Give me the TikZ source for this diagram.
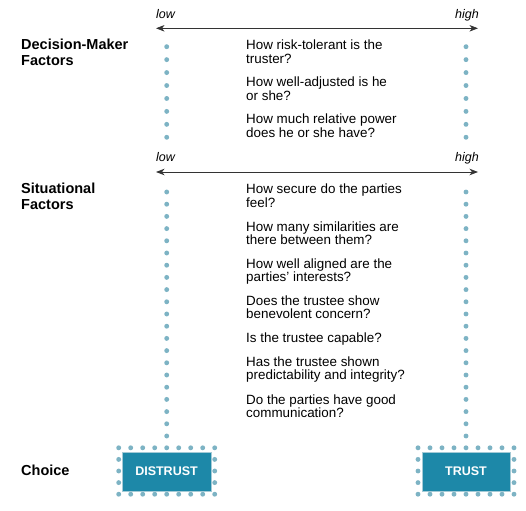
\documentclass[tikz,border=0pt]{standalone}
\usepackage{fontspec}
\setmainfont{Liberation Sans}
\usetikzlibrary{arrows.meta}
\definecolor{dotblue}{HTML}{7DB3C4}
\definecolor{boxblue}{HTML}{1D88A8}
\definecolor{arrowgray}{HTML}{333333}
\begin{document}
\begin{tikzpicture}[x=1pt,y=-1pt,
  header/.style={anchor=west, font=\fontsize{14.5}{16}\selectfont\bfseries, inner sep=0, text height=10pt, text depth=3pt},
  question/.style={anchor=west, font=\fontsize{13.4}{13.5}\selectfont, inner sep=0, text height=9.6pt, text depth=2.8pt},
  scalelabel/.style={font=\fontsize{12.5}{14}\selectfont\itshape, inner sep=0, text height=9pt, text depth=2.5pt},
  axis/.style={draw=arrowgray, line width=0.8pt, {Stealth[length=8.5pt,width=6.5pt,inset=2.5pt]}-{Stealth[length=8.5pt,width=6.5pt,inset=2.5pt]}},
  dot/.style={fill=dotblue, draw=none},
  choicebox/.style={fill=boxblue, draw=dotblue!70, line width=0.5pt, minimum width=89pt, minimum height=39pt, text=white, font=\fontsize{12.5}{14}\selectfont\bfseries, inner sep=0}
]
\useasboundingbox (0,0) rectangle (526,510);

% headers
\node[header] (h1a) at (21,46) {Decision-Maker};
\node[header] (h1b) at (21,62) {Factors};
\node[header] (h2a) at (21,190) {Situational};
\node[header] (h2b) at (21,206) {Factors};
\node[header] (h3)  at (21,472) {Choice};

% axes
\coordinate (l1) at (156,28.3);
\coordinate (r1) at (478,28.3);
\draw[axis] (l1) -- (r1);
\node[scalelabel, anchor=west] (low1) at (156,15.5) {low};
\node[scalelabel, anchor=east] (high1) at (479,15.5) {high};

\coordinate (l2) at (156,172);
\coordinate (r2) at (478,172);
\draw[axis] (l2) -- (r2);
\node[scalelabel, anchor=west] (low2) at (156,158.5) {low};
\node[scalelabel, anchor=east] (high2) at (479,158.5) {high};

% dot columns section 1
\foreach \k in {0,...,7} {
  \fill[dot] (166.7,{46.7+12.94*\k}) circle (2.45);
  \fill[dot] (466,{46.7+12.94*\k}) circle (2.45);
}
% dot columns section 2
\foreach \k in {0,...,20} {
  \fill[dot] (166.7,{192+12.2*\k}) circle (2.45);
  \fill[dot] (466,{192+12.2*\k}) circle (2.45);
}

% dotted frames
\foreach \cx in {166.7,466} {
  \foreach \i in {0,...,8} {
    \fill[dot] ({\cx-48+12*\i},447.8) circle (2.45);
    \fill[dot] ({\cx-48+12*\i},494.2) circle (2.45);
  }
  \foreach \j in {1,2,3} {
    \fill[dot] ({\cx-48},{447.8+11.6*\j}) circle (2.45);
    \fill[dot] ({\cx+48},{447.8+11.6*\j}) circle (2.45);
  }
}

% choice boxes
\node[choicebox] (distrust) at (166.5,471.5) {DISTRUST};
\node[choicebox, minimum width=88pt] (trust) at (466,471.5) {TRUST};

% questions section 1
\node[question] (q1a) at (246,46) {How risk-tolerant is the};
\node[question] (q1b) at (246,60) {truster?};
\node[question] (q2a) at (246,83) {How well-adjusted is he};
\node[question] (q2b) at (246,97) {or she?};
\node[question] (q3a) at (246,120.5) {How much relative power};
\node[question] (q3b) at (246,134) {does he or she have?};

% questions section 2
\node[question] (q4a) at (246,190.5) {How secure do the parties};
\node[question] (q4b) at (246,204) {feel?};
\node[question] (q5a) at (246,228) {How many similarities are};
\node[question] (q5b) at (246,241) {there between them?};
\node[question] (q6a) at (246,265) {How well aligned are the};
\node[question] (q6b) at (246,278) {parties’ interests?};
\node[question] (q7a) at (246,302.5) {Does the trustee show};
\node[question] (q7b) at (246,315) {benevolent concern?};
\node[question] (q8)  at (246,339) {Is the trustee capable?};
\node[question] (q9a) at (246,363) {Has the trustee shown};
\node[question] (q9b) at (246,376) {predictability and integrity?};
\node[question] (q10a) at (246,401) {Do the parties have good};
\node[question] (q10b) at (246,414) {communication?};
\end{tikzpicture}
\end{document}
